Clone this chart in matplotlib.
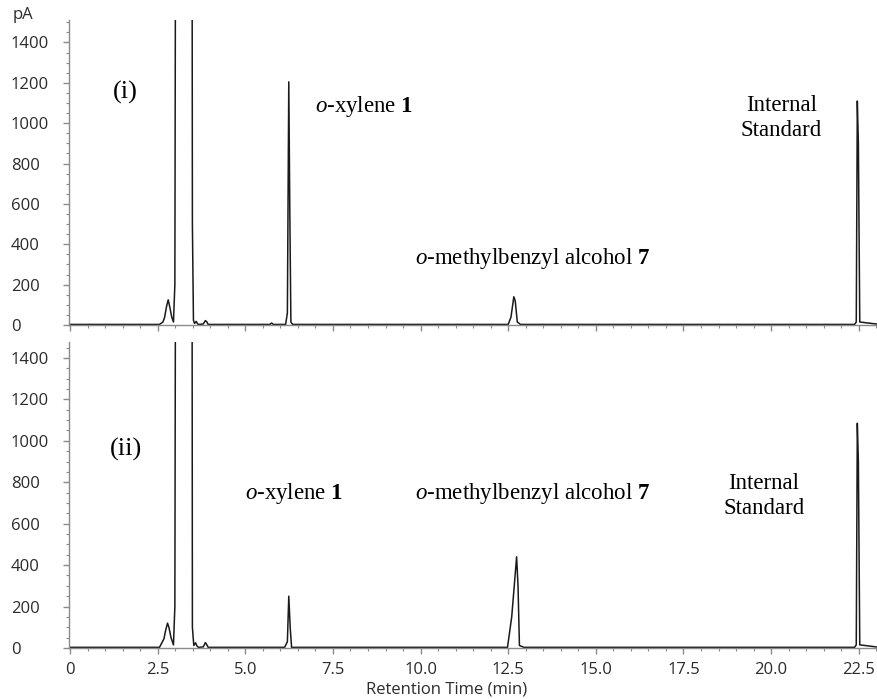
import matplotlib.pyplot as plt
from matplotlib.ticker import MultipleLocator

plt.rcParams['mathtext.fontset'] = 'custom'
plt.rcParams['mathtext.rm'] = 'Liberation Serif'
plt.rcParams['mathtext.it'] = 'Liberation Serif:italic'
plt.rcParams['mathtext.bf'] = 'Liberation Serif:bold'

# trace (i): retention time (min) and detector signal (pA)
time_i = [0.0, 2.55, 2.65, 2.70, 2.75, 2.80, 2.85, 2.90, 2.95, 2.99, 3.03,
          3.47, 3.49, 3.52, 3.55, 3.60, 3.63, 3.66, 3.80, 3.86, 3.90, 3.94,
          5.70, 5.75, 5.80, 6.15, 6.20, 6.24, 6.27, 6.30, 6.35,
          12.50, 12.58, 12.66, 12.70, 12.76, 12.85,
          22.38, 22.43, 22.46, 22.49, 22.53, 23.1]
signal_i = [3, 3, 15, 40, 90, 125, 85, 40, 15, 200, 4000,
            4000, 500, 25, 8, 18, 8, 3, 5, 22, 16, 3,
            3, 10, 3, 3, 60, 1205, 550, 15, 3,
            3, 40, 140, 120, 15, 3,
            3, 15, 1110, 900, 15, 3]

# trace (ii)
time_ii = [0.0, 2.55, 2.62, 2.68, 2.72, 2.78, 2.82, 2.88, 2.95, 2.99, 3.03,
           3.47, 3.49, 3.53, 3.58, 3.62, 3.66, 3.80, 3.86, 3.90, 3.94,
           6.12, 6.20, 6.24, 6.28, 6.32,
           12.48, 12.60, 12.74, 12.78, 12.82, 12.95,
           22.38, 22.43, 22.46, 22.49, 22.53, 23.1]
signal_ii = [3, 3, 25, 45, 80, 120, 100, 50, 15, 200, 4000,
             4000, 100, 12, 25, 10, 3, 5, 26, 16, 3,
             3, 30, 250, 100, 3,
             3, 150, 440, 300, 12, 3,
             3, 15, 1085, 900, 15, 3]

x_ticks = [0, 2.5, 5.0, 7.5, 10.0, 12.5, 15.0, 17.5, 20.0, 22.5]
x_labels = ['0', '2.5', '5.0', '7.5', '10.0', '12.5', '15.0', '17.5', '20.0', '22.5']
y_ticks = [0, 200, 400, 600, 800, 1000, 1200, 1400]

serif = 'Liberation Serif'
axis_grey = '#8a8a8a'
label_grey = '#2b2b2b'

fig = plt.figure(figsize=(8.78, 6.99), dpi=100)
ax1 = fig.add_axes([0.0786, 0.535, 0.9214, 0.436])
ax2 = fig.add_axes([0.0786, 0.073, 0.9214, 0.438])


def style_axis(ax, ytop, show_x):
    ax.set_xlim(-0.03, 23.05)
    ax.set_ylim(0, ytop)
    for side in ['top', 'right']:
        ax.spines[side].set_visible(False)
    for side in ['left', 'bottom']:
        ax.spines[side].set_color(axis_grey)
        ax.spines[side].set_linewidth(1.0)
    ax.set_xticks(x_ticks)
    ax.set_yticks(y_ticks)
    ax.xaxis.set_minor_locator(MultipleLocator(0.5))
    ax.yaxis.set_minor_locator(MultipleLocator(50))
    ax.tick_params(which='major', length=4, color=axis_grey, width=1,
                   labelsize=12, labelcolor=label_grey)
    ax.tick_params(which='minor', length=2, color=axis_grey, width=0.8)
    # y labels are left-aligned near the figure edge
    ax.tick_params(axis='y', pad=38)
    ax.tick_params(axis='x', pad=6)
    for lab in ax.get_yticklabels():
        lab.set_fontfamily('Open Sans')
        lab.set_horizontalalignment('left')
    if show_x:
        ax.set_xticklabels(x_labels, fontfamily='Open Sans')
    else:
        ax.set_xticklabels([])


ax1.plot(time_i, signal_i, color='#1a1a1a', lw=1.1)
ax2.plot(time_ii, signal_ii, color='#1a1a1a', lw=1.1)
style_axis(ax1, 1510, False)
style_axis(ax2, 1478, True)

# annotations, panel (i)
ax1.text(1.57, 1150, '(i)', fontfamily=serif, fontsize=19, ha='center', va='center')
ax1.text(7.0, 1085, r'$\mathit{o}$-xylene $\mathbf{1}$', fontfamily=serif,
         fontsize=16.5, ha='left', va='center')
ax1.text(9.83, 332, r'$\mathit{o}$-methylbenzyl alcohol $\mathbf{7}$', fontfamily=serif,
         fontsize=16.5, ha='left', va='center')
ax1.text(20.3, 1025, 'Internal\nStandard', fontfamily=serif, fontsize=16.5,
         ha='center', va='center', linespacing=1.25)

# annotations, panel (ii)
ax2.text(1.6, 960, '(ii)', fontfamily=serif, fontsize=19, ha='center', va='center')
ax2.text(5.0, 748, r'$\mathit{o}$-xylene $\mathbf{1}$', fontfamily=serif,
         fontsize=16.5, ha='left', va='center')
ax2.text(9.83, 748, r'$\mathit{o}$-methylbenzyl alcohol $\mathbf{7}$', fontfamily=serif,
         fontsize=16.5, ha='left', va='center')
ax2.text(19.8, 735, 'Internal\nStandard', fontfamily=serif, fontsize=16.5,
         ha='center', va='center', linespacing=1.25)

fig.text(0.014, 0.979, 'pA', fontfamily='Open Sans', fontsize=12,
         color=label_grey, ha='left', va='center')
fig.text(0.509, 0.013, 'Retention Time (min)', fontfamily='Open Sans', fontsize=12,
         color=label_grey, ha='center', va='center')

fig.savefig('out.png', dpi=100, facecolor='white')
